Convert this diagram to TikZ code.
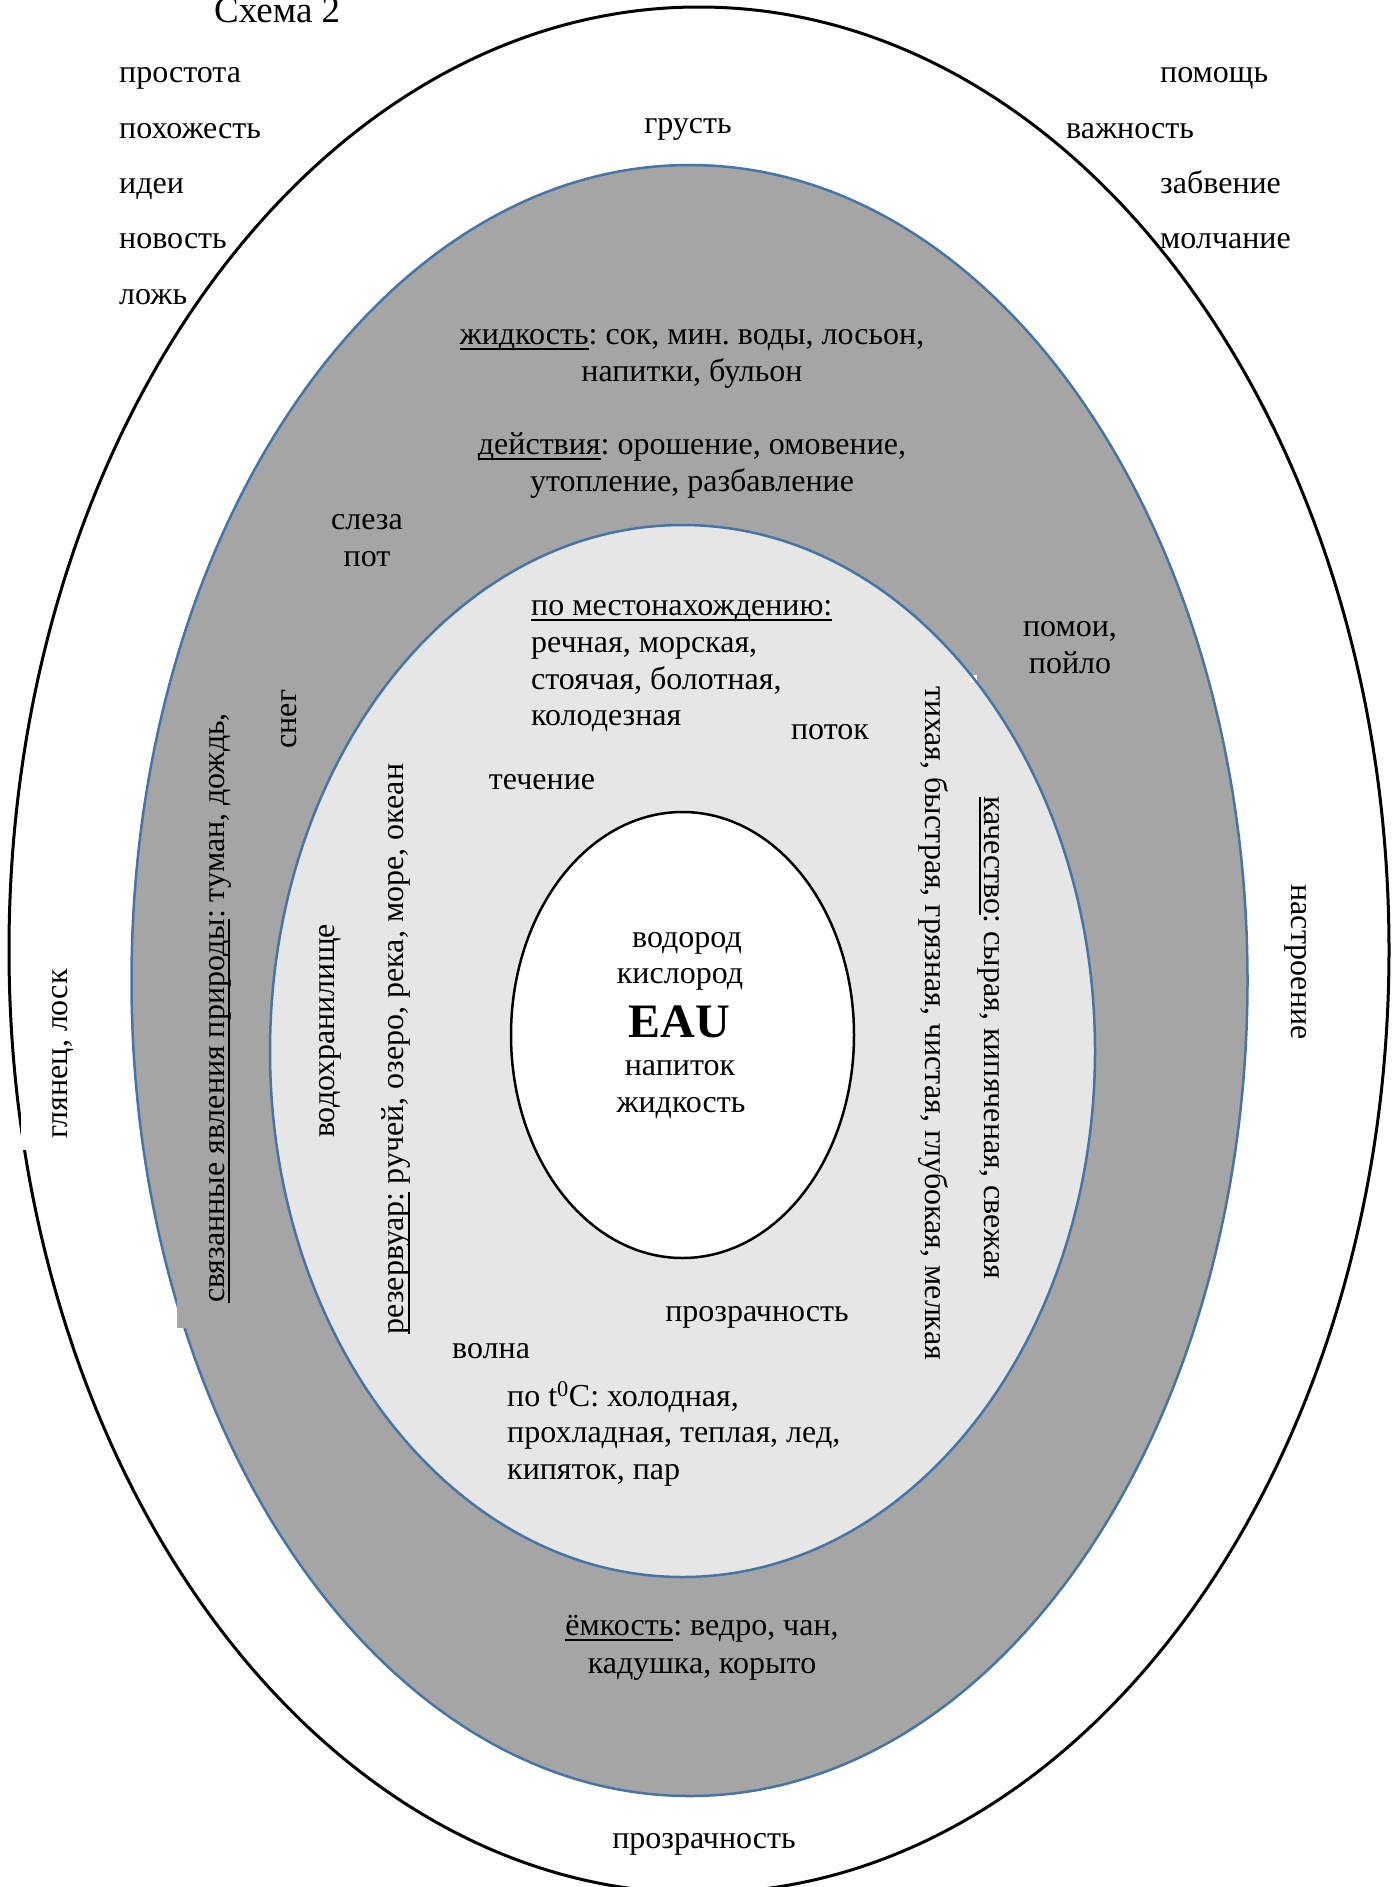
\documentclass[tikz,border=0pt]{standalone}
\usepackage{fontspec}
\setmainfont{Liberation Serif}
\frenchspacing
\definecolor{ringgray}{RGB}{165,165,165}
\definecolor{innergray}{RGB}{230,230,230}
\definecolor{rimblue}{RGB}{70,116,166}
% underline with a visible rule below the baseline
\newcommand\undl[1]{\setbox0\hbox{#1}\rlap{\rule[-6pt]{\wd0}{2pt}}\box0\relax}
\begin{document}
\begin{tikzpicture}[x=1pt,y=-1pt,
  txt/.style={inner sep=0pt, font=\fontsize{32}{37}\selectfont},
  lt/.style={txt, anchor=base west},
  ct/.style={txt, anchor=base},
  up/.style={txt, rotate=90, anchor=center},
  down/.style={txt, rotate=-90, anchor=center}]
\useasboundingbox (0,0) rectangle (1395,1887);
\clip (0,0) rectangle (1395,1887);

% outer ring
\draw[line width=3pt] (699,950) ellipse [x radius=690pt, y radius=943pt];
\fill[white] (21,960) rectangle (105,1150);

% grey ring
\filldraw[fill=ringgray, draw=rimblue, line width=2.5pt] (689.5,980.5) ellipse [x radius=558pt, y radius=815.5pt];
\fill[ringgray] (177,700) rectangle (255,1328);

% light ring
\fill[innergray] (682.5,1051) ellipse [x radius=412.5pt, y radius=526pt];
\fill[white] (970,675) rectangle (977,682);
\draw[rimblue, line width=2.5pt] (682.5,1051) ellipse [x radius=412.5pt, y radius=526pt];

% core
\filldraw[fill=white, draw=black, line width=2.5pt] (682.5,1035) ellipse [x radius=171.5pt, y radius=223pt];

% title
\node[lt, font=\fontsize{37}{42}\selectfont] (title) at (214,22) {Схема 2};

% outer ring words
\node[lt] (o1) at (119,82) {простота};
\node[lt] (o2) at (119,138) {похожесть};
\node[lt] (o3) at (119,193) {идеи};
\node[lt] (o4) at (119,248) {новость};
\node[lt] (o5) at (119,304) {ложь};
\node[lt] (o6) at (1160,82) {помощь};
\node[lt] (o7) at (1066,138) {важность};
\node[lt] (o8) at (1160,193) {забвение};
\node[lt] (o9) at (1160,248) {молчание};
\node[ct] (o10) at (688,133) {грусть};
\node[up] (o11) at (63,1054) {глянец, лоск};
\node[down] (o12) at (1296,962) {настроение};
\node[ct] (o13) at (704,1848) {прозрачность};

% grey ring words
\node[ct] (g1) at (692,344) {\undl{жидкость}: сок, мин. воды, лосьон,};
\node[ct] (g2) at (692,381) {напитки, бульон};
\node[ct] (g3) at (692,454) {\undl{действия}: орошение, омовение,};
\node[ct] (g4) at (692,491) {утопление, разбавление};
\node[ct] (g5) at (367,529) {слеза};
\node[ct] (g6) at (367,566) {пот};
\node[ct] (g7) at (1070,636) {помои,};
\node[ct] (g8) at (1070,673) {пойло};
\node[up] (g9) at (289,719) {снег};
\node[up] (g10) at (220,1008) {\undl{связанные явления природы}: туман, дождь,};
\node[ct] (g11) at (702,1635) {\undl{ёмкость}: ведро, чан,};
\node[ct] (g12) at (702,1673) {кадушка, корыто};

% light ring words
\node[lt] (l1) at (531,615) {\undl{по местонахождению:}};
\node[lt] (l2) at (531,652) {речная, морская,};
\node[lt] (l3) at (531,689) {стоячая, болотная,};
\node[lt] (l4) at (531,725) {колодезная};
\node[ct] (l5) at (830,739) {поток};
\node[ct] (l6) at (542,789) {течение};
\node[up] (l7) at (330,1031) {водохранилище};
\node[up] (l8) at (396,1049) {\undl{резервуар:} ручей, озеро, река, море, океан};
\node[down] (l9) at (933,1023) {тихая, быстрая, грязная, чистая, глубокая, мелкая};
\node[down] (l10) at (989,1038) {\undl{качество}: сырая, кипяченая, свежая};
\node[ct] (l11) at (757,1321) {прозрачность};
\node[lt] (l12) at (452,1358) {волна};
\node[lt] (l13) at (507,1406) {по t\textsuperscript{0}C: холодная,};
\node[lt] (l14) at (507,1442) {прохладная, теплая, лед,};
\node[lt] (l15) at (507,1479) {кипяток, пар};

% core words
\node[ct] (c1) at (687,947) {водород};
\node[ct] (c2) at (680,983) {кислород};
\node[ct, font=\fontsize{48}{52}\selectfont\bfseries] (c3) at (679,1037) {EAU};
\node[ct] (c4) at (680,1075) {напиток};
\node[ct] (c5) at (681,1112) {жидкость};
\end{tikzpicture}
\end{document}
